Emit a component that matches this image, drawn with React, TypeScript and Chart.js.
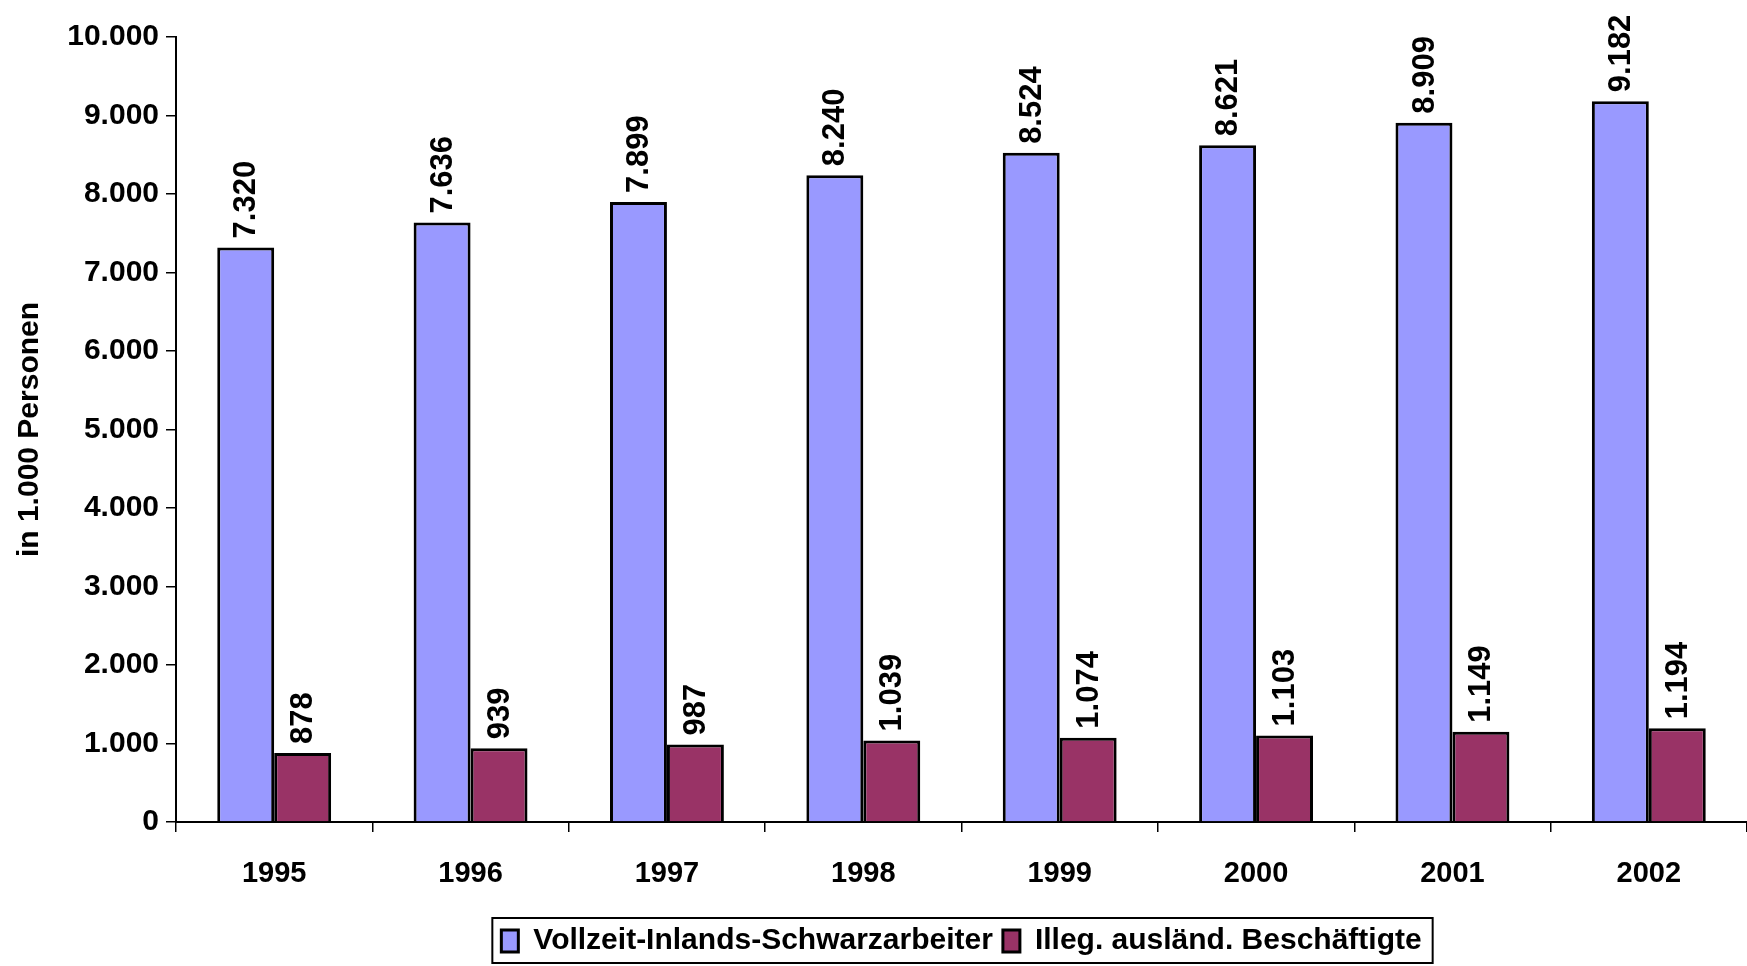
import React, { useEffect, useRef } from "react";
import { Chart, registerables } from "chart.js";

Chart.register(...registerables);

const years = ["1995", "1996", "1997", "1998", "1999", "2000", "2001", "2002"];
const vollzeit = [7320, 7636, 7899, 8240, 8524, 8621, 8909, 9182];
const illegal = [878, 939, 987, 1039, 1074, 1103, 1149, 1194];
const seriesNames = ["Vollzeit-Inlands-Schwarzarbeiter", "Illeg. ausländ. Beschäftigte"];
const yAxisTitle = "in 1.000 Personen";
const yMin = 0;
const yMax = 10000;
const yStep = 1000;

const FONT = "'Liberation Sans', Arial, Helvetica, sans-serif";

function fmt(v: number): string {
  return String(Math.round(v)).replace(/\B(?=(\d{3})+(?!\d))/g, ".");
}

const dataLabelPlugin = {
  id: "dataLabels",
  afterDatasetsDraw(chart: any) {
    const ctx = chart.ctx;
    ctx.save();
    ctx.font = `bold 31px ${FONT}`;
    ctx.fillStyle = "#000";
    ctx.textAlign = "left";
    ctx.textBaseline = "middle";
    chart.data.datasets.forEach((ds: any, di: number) => {
      const meta = chart.getDatasetMeta(di);
      meta.data.forEach((el: any, i: number) => {
        const v = ds.data[i];
        ctx.save();
        ctx.translate(el.x + 1, el.y - 9);
        ctx.rotate(-Math.PI / 2);
        ctx.fillText(fmt(v), 0, 0);
        ctx.restore();
      });
    });
    ctx.restore();
  },
};

const legendShiftPlugin = {
  id: "legendShift",
  afterLayout(chart: any) {
    const lg = chart.legend;
    if (!lg || !lg.legendHitBoxes) return;
    const tops = lg.legendHitBoxes.map((b: any) => b.top);
    lg.left = chart.chartArea.left;
    lg.right = chart.chartArea.right;
    lg.width = lg.right - lg.left;
    if (typeof lg.adjustHitBoxes === "function") lg.adjustHitBoxes();
    lg.legendHitBoxes.forEach((b: any, i: number) => {
      b.top = tops[i];
    });
  },
};

const legendBorderPlugin = {
  id: "legendBorder",
  afterDraw(chart: any) {
    const lg = chart.legend;
    if (!lg || !lg.legendHitBoxes || !lg.legendHitBoxes.length) return;
    const boxes = lg.legendHitBoxes;
    let minX = Infinity, maxX = -Infinity, minY = Infinity, maxY = -Infinity;
    boxes.forEach((b: any) => {
      minX = Math.min(minX, b.left);
      maxX = Math.max(maxX, b.left + b.width);
      minY = Math.min(minY, b.top);
      maxY = Math.max(maxY, b.top + b.height);
    });
    const ctx = chart.ctx;
    ctx.save();
    ctx.strokeStyle = "#000";
    ctx.lineWidth = 2;
    ctx.strokeRect(minX - 9, minY - 8, maxX - minX + 20, maxY - minY + 15);
    ctx.restore();
  },
};

export default function App() {
  const canvasRef = useRef<HTMLCanvasElement | null>(null);

  useEffect(() => {
    document.body.style.margin = "0";
    const canvas = canvasRef.current;
    if (!canvas) return;
    const chart = new Chart(canvas, {
      type: "bar",
      data: {
        labels: years,
        datasets: [
          {
            label: seriesNames[0],
            data: vollzeit,
            backgroundColor: "#9999FF",
            borderColor: "#000000",
            borderWidth: 3,
            categoryPercentage: 0.58,
            barPercentage: 1.0,
          },
          {
            label: seriesNames[1],
            data: illegal,
            backgroundColor: "#993366",
            borderColor: "#000000",
            borderWidth: 3,
            categoryPercentage: 0.58,
            barPercentage: 1.0,
          },
        ],
      },
      options: {
        animation: false,
        responsive: true,
        maintainAspectRatio: false,
        layout: { padding: { top: 37, right: 0, left: 0, bottom: 0 } },
        plugins: {
          tooltip: { enabled: false },
          legend: {
            position: "bottom",
            labels: {
              color: "#000",
              font: { family: FONT, size: 30, weight: "bold" },
              boxWidth: 17,
              boxHeight: 22,
              padding: 10,
            },
          },
        },
        scales: {
          x: {
            grid: {
              offset: true,
              drawOnChartArea: false,
              drawTicks: true,
              tickLength: 10,
              color: "#000",
              lineWidth: 1.5,
            },
            border: { color: "#000", width: 2 },
            ticks: {
              color: "#000",
              font: { family: FONT, size: 29, weight: "bold" },
              padding: 25,
              maxRotation: 0,
            },
            afterFit(scale: any) {
              scale.height = 94;
            },
          },
          y: {
            min: yMin,
            max: yMax,
            grid: {
              drawOnChartArea: false,
              drawTicks: true,
              tickLength: 10,
              color: "#000",
              lineWidth: 1.5,
            },
            border: { color: "#000", width: 2 },
            ticks: {
              stepSize: yStep,
              color: "#000",
              font: { family: FONT, size: 30, weight: "bold" },
              padding: 7,
              callback: (v: any) => fmt(Number(v)),
            },
            title: {
              display: true,
              text: yAxisTitle,
              color: "#000",
              font: { family: FONT, size: 30, weight: "bold" },
              padding: { top: 12, bottom: 0 },
            },
            afterFit(scale: any) {
              scale.width = 176;
            },
          },
        },
      },
      plugins: [legendShiftPlugin, dataLabelPlugin, legendBorderPlugin],
    });
    return () => chart.destroy();
  }, []);

  return (
    <div style={{ position: "relative", width: "1747px", height: "966px", background: "#fff" }}>
      <canvas ref={canvasRef} />
    </div>
  );
}
